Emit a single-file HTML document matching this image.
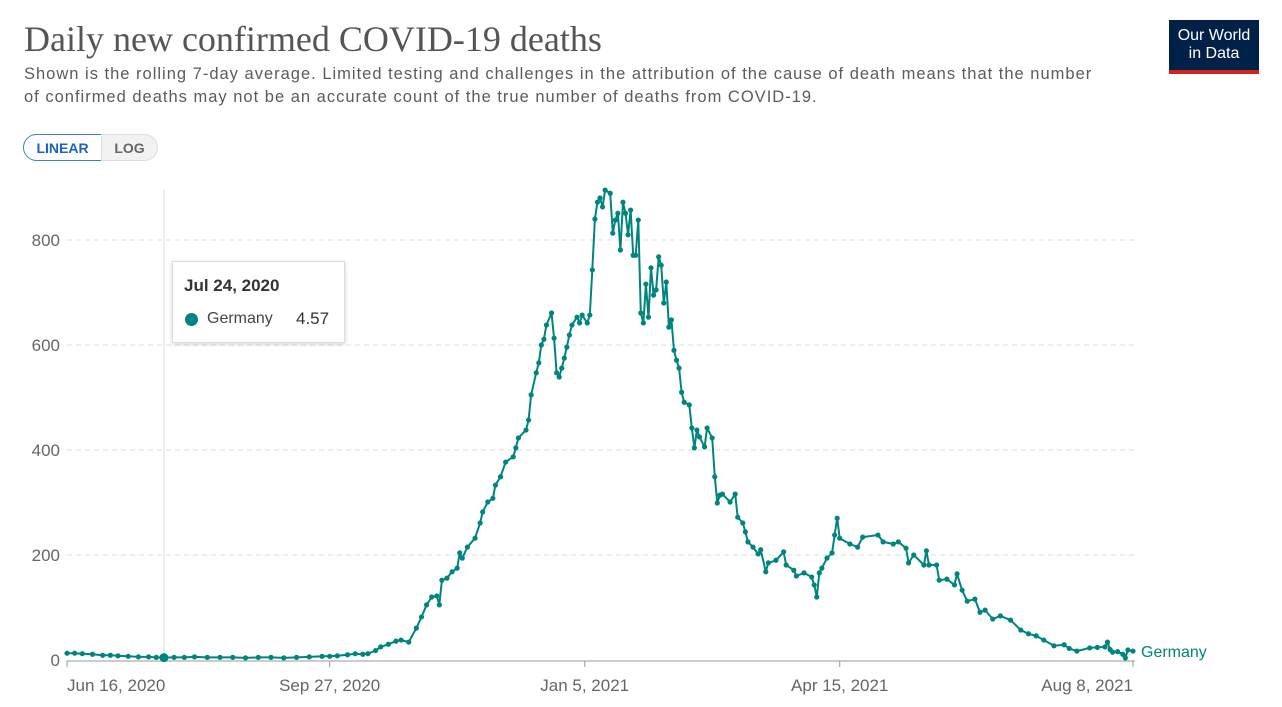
<!DOCTYPE html>
<html><head><meta charset="utf-8">
<style>
body{margin:0;width:1282px;height:707px;background:#fff;overflow:hidden;font-family:"Liberation Sans",sans-serif;position:relative}
#title{position:absolute;left:24px;top:18px;font-family:"Liberation Serif",serif;font-size:36px;color:#555;margin:0;font-weight:normal}
#sub{position:absolute;left:24px;top:63px;width:1100px;font-size:16.5px;letter-spacing:1px;line-height:23px;color:#5b5b5b;margin:0;white-space:nowrap}
.btn{position:absolute;top:134px;height:27px;line-height:27px;font-size:14px;font-weight:bold;text-align:center;box-sizing:border-box}
#logo{position:absolute;left:1169px;top:20px;width:90px;height:54px;background:#002147;color:#fff;font-size:16px;line-height:18px;text-align:center;box-sizing:border-box;padding-top:7px;border-bottom:4px solid #ce261e}
#tip{position:absolute;left:172px;top:261px;width:173px;height:82px;background:#fff;border:1px solid #ddd;box-shadow:0 1px 4px rgba(0,0,0,.18);box-sizing:border-box}
</style></head><body>
<h1 id="title">Daily new confirmed COVID-19 deaths</h1>
<p id="sub">Shown is the rolling 7-day average. Limited testing and challenges in the attribution of the cause of death means that the number<br>of confirmed deaths may not be an accurate count of the true number of deaths from COVID-19.</p>
<div class="btn" style="left:23px;width:79px;border:1px solid #3b7dd8;border-radius:14px 0 0 14px;color:#1d62c2;background:#fff">LINEAR</div>
<div class="btn" style="left:101px;width:57px;border:1px solid #ddd;border-radius:0 14px 14px 0;color:#666;background:#f2f2f2;font-weight:bold">LOG</div>
<div id="logo">Our World<br>in Data</div>
<svg id="chart" width="1282" height="707" style="position:absolute;left:0;top:0"></svg>
<div id="tip">
<div style="position:absolute;left:11px;top:14px;font-size:17px;font-weight:bold;color:#333">Jul 24, 2020</div>
<div style="position:absolute;left:12px;top:51px;width:13px;height:13px;border-radius:50%;background:#00847e"></div>
<div style="position:absolute;left:34px;top:48px;font-size:16px;color:#444">Germany</div>
<div style="position:absolute;left:123px;top:47px;font-size:17px;color:#333">4.57</div>
</div>
<script>
const days=[0,3,6,10,14,17,20,24,28,32,35,38,42,46,50,55,60,65,70,75,80,85,90,95,100,103,106,110,113,116,118,121,123,126,129,131,134,137,139,141,143,145,146,147,149,151,153,154,155,157,160,162,163,165,167,168,170,172,175,176,177,180,181,182,184,185,186,187,188,190,191,192,193,194,195,196,197,198,200,201,202,204,205,206,207,208,209,210,211,213,214,215,216,217,218,219,220,221,222,223,224,225,226,227,228,229,230,231,232,233,234,235,236,237,238,239,240,241,242,244,245,246,247,248,250,251,253,254,255,256,257,260,262,263,265,266,267,269,271,272,274,275,278,281,282,285,286,289,292,293,294,295,296,298,300,301,302,303,307,310,312,318,320,324,326,329,330,332,336,337,338,341,342,345,348,349,351,353,356,358,360,363,366,370,374,377,380,383,387,391,393,396,401,404,407,408,409,410,412,414,415,416,418];
const values=[13,13,12,11,9,9,8,7,6,6,5,4.57,5,5,6,5,5,5,4,5,5,4,5,6,7,7,8,10,12,11,12,18,25,30,36,38,34,61,82,105,120,122,105,152,156,168,175,204,194,215,232,261,282,301,308,333,349,377,387,404,423,438,457,505,547,566,600,611,638,661,613,547,539,556,575,596,619,638,653,642,657,642,657,743,840,872,880,863,895,889,813,838,851,781,872,851,810,857,771,771,838,661,642,716,653,747,695,705,768,752,680,720,634,648,590,571,556,510,491,486,442,404,438,425,406,442,423,349,299,314,316,301,316,272,261,244,225,215,202,210,168,185,190,206,181,171,160,166,158,143,120,166,175,194,204,238,270,232,221,215,234,238,225,221,225,213,185,200,181,208,181,181,152,154,143,164,133,112,116,91,95,78,84,76,57,50,46,38,27,29,22,17,23,24,25,34,20,15,16,11,4,19,17];
const yTicks=[0,200,400,600,800];
const xTickDays=[0,103,203,303,418];
const xTickLabels=["Jun 16, 2020","Sep 27, 2020","Jan 5, 2021","Apr 15, 2021","Aug 8, 2021"];
const hoverDay=38, hoverValue=4.57;
const X=d=>67+d*(1066/418), Y=v=>660-v*0.525;
const svg=document.getElementById('chart'),NS='http://www.w3.org/2000/svg';
function mk(t,a,txt){const e=document.createElementNS(NS,t);for(const k in a)e.setAttribute(k,a[k]);if(txt!=null)e.textContent=txt;svg.appendChild(e);return e;}
yTicks.forEach(v=>{
 if(v>0){const g=mk('line',{x1:67,x2:1135,y1:Y(v),y2:Y(v),stroke:'#ddd','stroke-dasharray':'5,4'});
 
 }
 const t=mk('text',{x:60,y:Y(v)+6,'text-anchor':'end','font-size':17,fill:'#666'},v);
 
 
});
const ax=mk('line',{x1:67,x2:1135,y1:661,y2:661,stroke:'#999'});


xTickDays.forEach((d,i)=>{
 const tk=mk('line',{x1:X(d),x2:X(d),y1:661,y2:667,stroke:'#999'});
 
 
 const anchor=i==0?'start':(i==xTickLabels.length-1?'end':'middle');
 const t=mk('text',{x:X(d),y:691,'text-anchor':anchor,'font-size':17,fill:'#666'},xTickLabels[i]);
 
 
});
const hl=mk('line',{x1:X(hoverDay),x2:X(hoverDay),y1:190,y2:660,stroke:'#ddd'});


const pts=days.map((d,i)=>X(d).toFixed(1)+','+Y(values[i]).toFixed(1)).join(' ');
const pl=mk('polyline',{points:pts,fill:'none',stroke:'#00847e','stroke-width':2,'stroke-linejoin':'round'});


days.forEach((d,i)=>{const c=mk('circle',{cx:X(d),cy:Y(values[i]),r:2.6,fill:'#00847e'});
 
 });
const hd=mk('circle',{cx:X(hoverDay),cy:Y(hoverValue),r:4.5,fill:'#00847e'});


const lb=mk('text',{x:1141,y:657,'font-size':16,fill:'#00847e'},'Germany');


</script>
</body></html>
